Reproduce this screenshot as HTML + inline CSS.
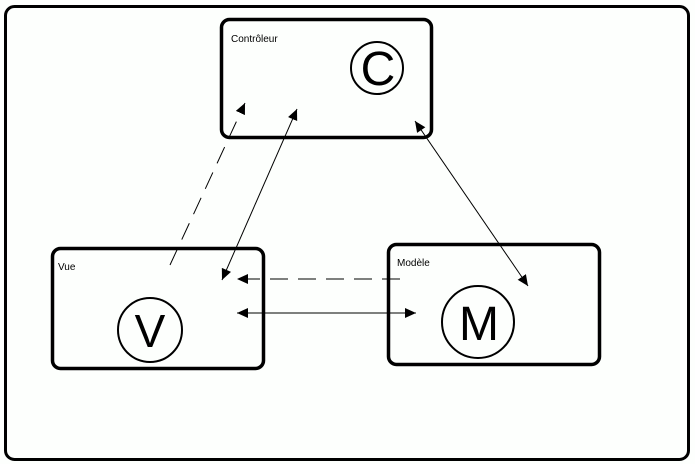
<!DOCTYPE html>
<html><head><style>
html,body{margin:0;padding:0;background:#fdfffd;}
svg{display:block;}
text{font-family:"Liberation Sans",sans-serif;}
</style></head><body>
<svg width="695" height="464" viewBox="0 0 695 464" xmlns="http://www.w3.org/2000/svg">
<defs>
<marker id="a" markerWidth="12" markerHeight="12" refX="11" refY="5" orient="auto" markerUnits="userSpaceOnUse">
<path d="M0,0 L11,5 L0,10 Z" fill="#000"/></marker>
<marker id="s" markerWidth="12" markerHeight="12" refX="0" refY="5" orient="auto" markerUnits="userSpaceOnUse">
<path d="M11,0 L0,5 L11,10 Z" fill="#000"/></marker>
</defs>
<rect x="5.5" y="6.5" width="683" height="453" rx="9" fill="#fdfffd" stroke="#000" stroke-width="3"/>
<rect x="221.5" y="19.5" width="210" height="118" rx="8" fill="none" stroke="#000" stroke-width="3.5"/>
<rect x="52.5" y="248.5" width="211" height="120" rx="8" fill="none" stroke="#000" stroke-width="3.5"/>
<rect x="388.5" y="244.5" width="211" height="120" rx="8" fill="none" stroke="#000" stroke-width="3.5"/>
<text x="231" y="42" font-size="10">Contrôleur</text>
<text x="58" y="270" font-size="10">Vue</text>
<text x="397" y="266" font-size="10">Modèle</text>
<circle cx="377" cy="68" r="26" fill="none" stroke="#000" stroke-width="2"/>
<text x="378" y="85" font-size="48" text-anchor="middle">C</text>
<circle cx="150" cy="330" r="32" fill="none" stroke="#000" stroke-width="2"/>
<text x="150" y="347" font-size="46" text-anchor="middle">V</text>
<circle cx="478" cy="322" r="36" fill="none" stroke="#000" stroke-width="2"/>
<text x="479" y="340" font-size="48" text-anchor="middle">M</text>
<line x1="170" y1="265" x2="245" y2="103" stroke="#000" stroke-dasharray="18,10" marker-end="url(#a)"/>
<line x1="222" y1="280" x2="297" y2="109" stroke="#000" marker-start="url(#s)" marker-end="url(#a)"/>
<line x1="415" y1="121" x2="528" y2="286" stroke="#000" marker-start="url(#s)" marker-end="url(#a)"/>
<line x1="400" y1="279" x2="237" y2="279" stroke="#000" stroke-dasharray="18,10" marker-end="url(#a)"/>
<line x1="237" y1="313" x2="416" y2="313" stroke="#000" marker-start="url(#s)" marker-end="url(#a)"/>
</svg>
</body></html>
